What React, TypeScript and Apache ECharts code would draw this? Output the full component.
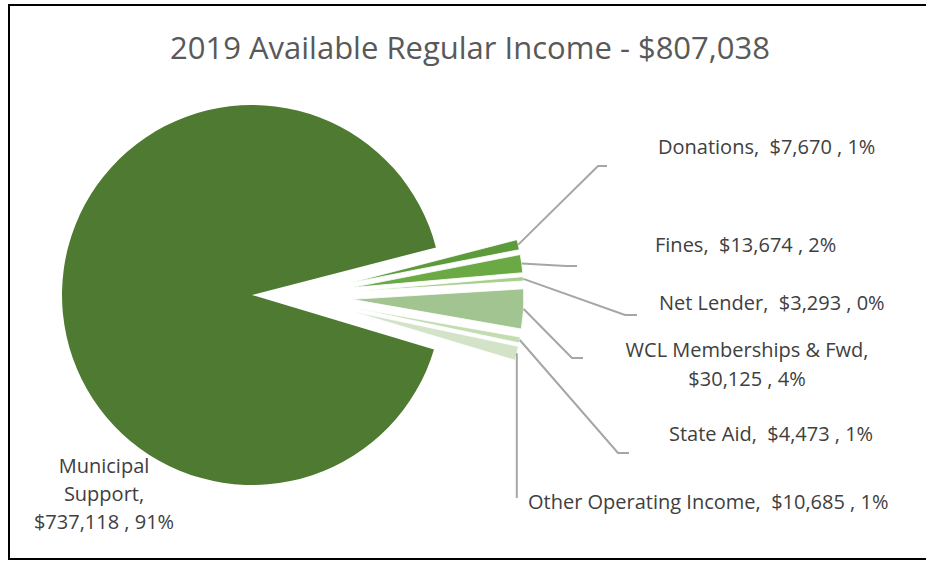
import React, { useEffect, useRef } from 'react';
import * as echarts from 'echarts';

// ---- data ----
const categories = [
  'Donations',
  'Fines',
  'Net Lender',
  'WCL Memberships & Fwd',
  'State Aid',
  'Other Operating Income',
  'Municipal Support',
];
const values = [7670, 13674, 3293, 30125, 4473, 10685, 737118];
const titleText = '2019 Available Regular Income - $807,038';

// ---- styles / label layout (not data) ----
const colors = ['#5D9A3B', '#6AA943', '#A9CF8E', '#A1C490', '#C3DCB2', '#D2E3C8', '#4E7A31'];
const MUNI = 6;
const WCL = 3;
const OTHER = 5;
const CLEAR = 'rgba(0,0,0,0)';
const labelAnchors: { x: number; y: number; align: string }[] = [
  { x: 658, y: 146, align: 'left' },
  { x: 655, y: 244, align: 'left' },
  { x: 659, y: 302, align: 'left' },
  { x: 747, y: 364, align: 'center' },
  { x: 669, y: 433, align: 'left' },
  { x: 528, y: 501, align: 'left' },
  { x: 104, y: 493, align: 'center' },
];
const leaderTails: number[][][] = [
  [[598, 166], [607, 166]],
  [[566, 266], [577, 266]],
  [[625, 315], [637, 315]],
  [[572, 358], [583, 358]],
  [[618, 453], [629, 453]],
  [],
  [],
];

const FONT = '"Open Sans"';
const TEXT_COLOR = '#404040';
const SMALL_CENTER = [292, 296];
const SMALL_RADIUS = 172;
const EXPLODE = 60;

function money(v: number) {
  return '$' + v.toLocaleString('en-US');
}

function formatLabel(p: any) {
  const v = money(p.value);
  if (p.dataIndex === MUNI) {
    return p.name.replace(' ', '\n') + ',\n' + v + ' , ' + p.percent + '%';
  }
  if (p.dataIndex === WCL) {
    return p.name + ',\n' + v + ' , ' + p.percent + '%';
  }
  return p.name + ',  ' + v + ' , ' + p.percent + '%';
}

export default function App() {
  const ref = useRef<HTMLDivElement>(null);
  useEffect(() => {
    if (!ref.current) return;
    const chart = echarts.init(ref.current, null, { renderer: 'svg' });

    // Series 1: Municipal Support (whole pie, other slices invisible)
    const mainData = categories.map((name, i) => ({
      name,
      value: values[i],
      itemStyle: { color: i === MUNI ? colors[i] : CLEAR },
      label: { show: i === MUNI },
      labelLine: { show: false },
    }));
    // Series 2: the small exploded slices
    const smallData = categories.map((name, i) => ({
      name,
      value: values[i],
      selected: i !== MUNI,
      itemStyle:
        i === MUNI
          ? { color: CLEAR, borderWidth: 0 }
          : { color: colors[i], borderColor: '#ffffff', borderWidth: 0.8 },
    }));
    // Series 3: label carrier for the small slices (invisible slices)
    const labelData = categories.map((name, i) => ({
      name,
      value: values[i],
      itemStyle: { color: CLEAR },
      label: { show: i !== MUNI },
      labelLine: { show: i !== MUNI },
    }));

    const labelCommon = {
      position: 'outside',
      formatter: formatLabel,
      fontFamily: FONT,
      fontSize: 20,
      color: TEXT_COLOR,
      overflow: 'none',
    };

    const layoutFn = (params: any) => {
      const i = params.dataIndex;
      const a = labelAnchors[i];
      const res: any = {
        x: a.x,
        y: a.y,
        align: a.align,
        verticalAlign: 'middle',
      };
      const pts = params.labelLinePoints;
      if (pts && pts.length) {
        const s = pts[0];
        if (i === OTHER) {
          res.labelLinePoints = [s, [s[0], 470], [s[0], 498]];
        } else if (leaderTails[i].length) {
          res.labelLinePoints = [s, leaderTails[i][0], leaderTails[i][1]];
        }
      }
      return res;
    };

    chart.setOption({
      animation: false,
      backgroundColor: '#ffffff',
      graphic: [
        {
          type: 'rect',
          shape: { x: 9, y: 5, width: 940, height: 554 },
          style: { fill: 'none', stroke: '#000000', lineWidth: 2 },
          silent: true,
        },
        {
          type: 'text',
          x: 470,
          y: 47,
          style: {
            text: titleText,
            fontFamily: FONT,
            fontSize: 31,
            fill: '#595959',
            textAlign: 'center',
            textVerticalAlign: 'middle',
          },
          silent: true,
        },
      ],
      series: [
        {
          type: 'pie',
          center: [252, 295],
          radius: 190,
          startAngle: 14.5,
          clockwise: true,
          selectedMode: false,
          percentPrecision: 0,
          avoidLabelOverlap: false,
          silent: true,
          label: { ...labelCommon, lineHeight: 28 },
          labelLine: { show: false },
          labelLayout: layoutFn,
          emphasis: { disabled: true },
          data: mainData,
        },
        {
          type: 'pie',
          center: SMALL_CENTER,
          radius: SMALL_RADIUS,
          startAngle: 14.5,
          clockwise: true,
          selectedMode: 'multiple',
          selectedOffset: EXPLODE,
          percentPrecision: 0,
          silent: true,
          label: { show: false },
          labelLine: { show: false },
          emphasis: { disabled: true },
          data: smallData,
        },
        {
          type: 'pie',
          center: SMALL_CENTER,
          radius: SMALL_RADIUS + EXPLODE,
          startAngle: 14.5,
          clockwise: true,
          selectedMode: false,
          percentPrecision: 0,
          avoidLabelOverlap: false,
          silent: true,
          z: 3,
          label: { ...labelCommon, lineHeight: 29 },
          labelLine: {
            show: true,
            length: 20,
            length2: 10,
            smooth: false,
            lineStyle: { color: '#A6A6A6', width: 2 },
          },
          labelLayout: layoutFn,
          emphasis: { disabled: true },
          data: labelData,
        },
      ],
    });

    return () => {
      chart.dispose();
    };
  }, []);

  return (
    <div
      ref={ref}
      style={{ position: 'absolute', left: 0, top: 0, width: 926, height: 563 }}
    />
  );
}
